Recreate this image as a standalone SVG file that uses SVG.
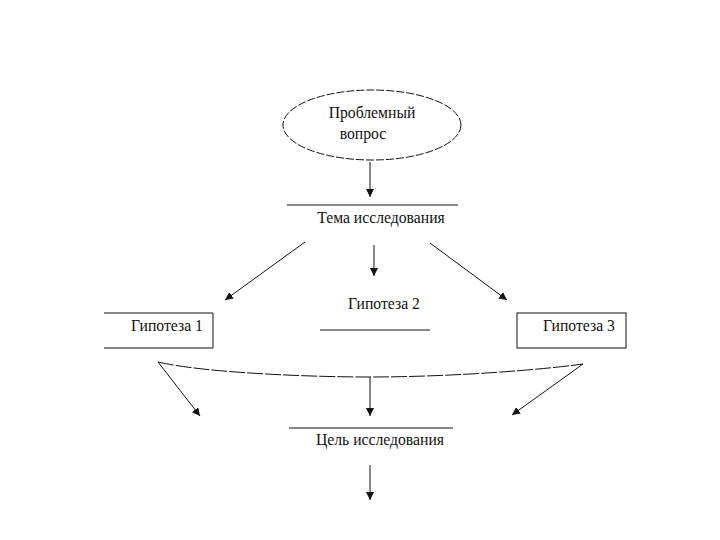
<svg xmlns="http://www.w3.org/2000/svg" width="720" height="540" viewBox="0 0 720 540">
<style>
text{font-family:"Liberation Serif","Times New Roman",serif;font-size:15.7px;fill:#111}
.ln{stroke:#111;stroke-width:1;fill:none}
.ar{stroke:#111;stroke-width:1;fill:none;marker-end:url(#ah)}
</style>
<defs>
<marker id="ah" viewBox="0 0 10 10" refX="10" refY="5" markerWidth="8" markerHeight="8" markerUnits="userSpaceOnUse" orient="auto">
<path d="M0,0L10,5L0,10z" fill="#111"/>
</marker>
</defs>
<rect width="720" height="540" fill="#fff"/>
<g id="problem">
<ellipse cx="372" cy="125" rx="89" ry="35" fill="none" stroke="#111" stroke-dasharray="8,2"/>
<text x="372" y="118" text-anchor="middle">Проблемный</text>
<text x="363" y="139" text-anchor="middle">вопрос</text>
</g>
<g id="topic">
<line class="ln" x1="287" y1="205" x2="458" y2="205"/>
<text x="381" y="223" text-anchor="middle">Тема исследования</text>
</g>
<g id="hyp1">
<path class="ln" d="M104,313H213V348H104"/>
<text x="167" y="331" text-anchor="middle">Гипотеза 1</text>
</g>
<g id="hyp2">
<text x="384" y="309" text-anchor="middle">Гипотеза 2</text>
<line class="ln" x1="320" y1="330" x2="430" y2="330"/>
</g>
<g id="hyp3">
<rect class="ln" x="517" y="313" width="109" height="35"/>
<text x="579" y="331" text-anchor="middle">Гипотеза 3</text>
</g>
<g id="goal">
<line class="ln" x1="289" y1="428" x2="453" y2="428"/>
<text x="380" y="445" text-anchor="middle">Цель исследования</text>
</g>
<g id="connectors">
<line class="ar" x1="370" y1="162" x2="370" y2="197"/>
<line class="ar" x1="305" y1="242" x2="225" y2="300"/>
<line class="ar" x1="374" y1="245" x2="374" y2="276"/>
<line class="ar" x1="430" y1="243" x2="507" y2="300"/>
<path class="ln" d="M158,362C200,372 300,377 370,377C450,377 540,370 583,364" stroke-dasharray="16,2"/>
<line class="ar" x1="158" y1="362" x2="200" y2="416"/>
<line class="ar" x1="370" y1="377" x2="370" y2="416"/>
<line class="ar" x1="583" y1="364" x2="512" y2="415"/>
<line class="ar" x1="370" y1="465" x2="370" y2="500"/>
</g>
</svg>
